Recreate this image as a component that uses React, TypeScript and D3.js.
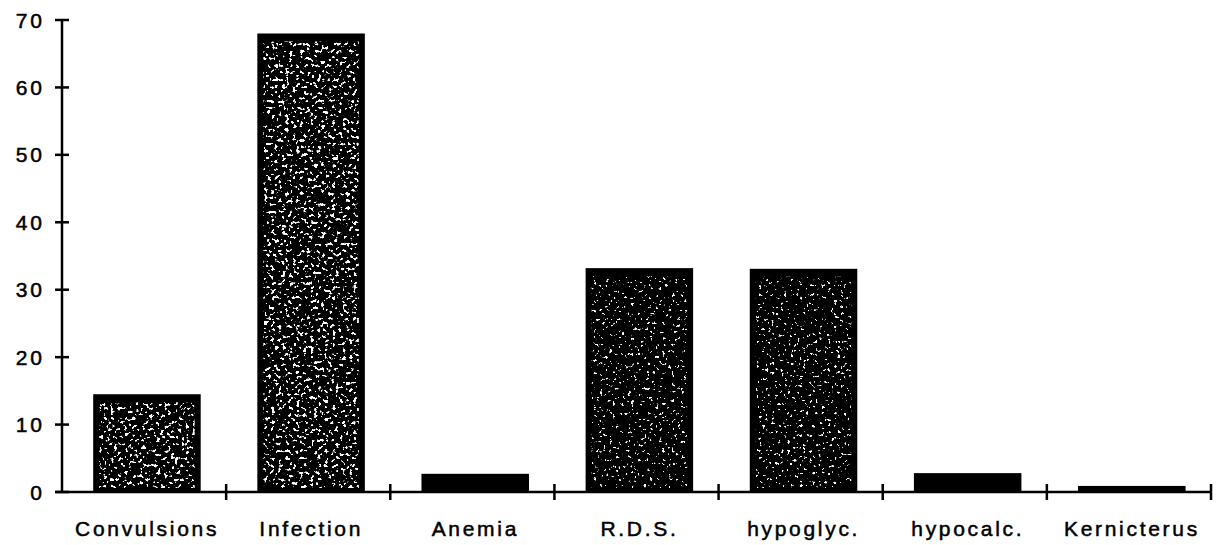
import React, { useRef, useEffect } from 'react'
import * as d3 from 'd3'

// categories and values
const categories = ['Convulsions', 'Infection', 'Anemia', 'R.D.S.', 'hypoglyc.', 'hypocalc.', 'Kernicterus']
const values = [14.5, 68, 2.7, 33.2, 33.1, 2.8, 0.9]
const yTicks = [0, 10, 20, 30, 40, 50, 60, 70]

const WIDTH = 1223
const HEIGHT = 545
const FONT = '"Liberation Sans", Arial, Helvetica, sans-serif'

const App: React.FC = () => {
    const svgRef = useRef<SVGSVGElement>(null)

    useEffect(() => {
        if (!svgRef.current) return
        const svg = d3.select(svgRef.current)
        svg.selectAll('*').remove()

        const left = 62
        const right = 1211
        const top = 20
        const bottom = 492

        const x = d3.scaleBand<string>().domain(categories).range([left, right]).padding(0)
        const y = d3.scaleLinear().domain([0, 70]).range([bottom, top])
        const bw = x.bandwidth()
        const barX = (d: string) => x(d)! + bw * 0.19
        const barW = bw * 0.655

        const defs = svg.append('defs')

        // speckle texture, like the halftone in the scan
        const mkFilter = (id: string, freq: number, cut: number, seed: number) => {
            const f = defs
                .append('filter')
                .attr('id', id)
                .attr('filterUnits', 'userSpaceOnUse')
                .attr('x', 0)
                .attr('y', 0)
                .attr('width', WIDTH)
                .attr('height', HEIGHT)
            f.append('feTurbulence')
                .attr('type', 'fractalNoise')
                .attr('baseFrequency', freq)
                .attr('numOctaves', 2)
                .attr('seed', seed)
                .attr('result', 'noise')
            f.append('feColorMatrix')
                .attr('in', 'noise')
                .attr('type', 'matrix')
                .attr('values', `0 0 0 0 1  0 0 0 0 1  0 0 0 0 1  18 0 0 0 ${-18 * cut}`)
        }
        mkFilter('speckDense', 0.28, 0.6, 11)
        mkFilter('speckSparse', 0.32, 0.66, 5)

        const dense = ['Convulsions', 'Infection']
        const textured = categories.filter((d, i) => bottom - y(values[i]) > 30)

        const mkClip = (id: string, cats: string[]) => {
            defs.append('clipPath')
                .attr('id', id)
                .selectAll('rect')
                .data(cats)
                .enter()
                .append('rect')
                .attr('x', (d) => barX(d) + 6)
                .attr('width', barW - 12)
                .attr('y', (d) => y(values[categories.indexOf(d)]) + 8)
                .attr('height', (d) => bottom - y(values[categories.indexOf(d)]) - 12)
        }
        mkClip('clipDense', textured.filter((d) => dense.includes(d)))
        mkClip('clipSparse', textured.filter((d) => !dense.includes(d)))

        const g = svg.append('g')

        // bars
        g.selectAll('rect.bar')
            .data(categories)
            .enter()
            .append('rect')
            .attr('class', 'bar')
            .attr('x', (d) => barX(d))
            .attr('width', barW)
            .attr('y', (d, i) => y(values[i]))
            .attr('height', (d, i) => bottom - y(values[i]))
            .attr('fill', '#000')

        g.append('g')
            .attr('clip-path', 'url(#clipDense)')
            .append('rect')
            .attr('width', WIDTH)
            .attr('height', HEIGHT)
            .attr('fill', '#000')
            .attr('filter', 'url(#speckDense)')

        g.append('g')
            .attr('clip-path', 'url(#clipSparse)')
            .append('rect')
            .attr('width', WIDTH)
            .attr('height', HEIGHT)
            .attr('fill', '#000')
            .attr('filter', 'url(#speckSparse)')

        // y axis
        g.append('line')
            .attr('x1', left)
            .attr('x2', left)
            .attr('y1', y(0))
            .attr('y2', y(70))
            .attr('stroke', '#000')
            .attr('stroke-width', 2.5)

        g.selectAll('.ytick')
            .data(yTicks)
            .enter()
            .append('line')
            .attr('class', 'ytick')
            .attr('x1', left - 7)
            .attr('x2', left + 7)
            .attr('y1', (d) => y(d))
            .attr('y2', (d) => y(d))
            .attr('stroke', '#000')
            .attr('stroke-width', 2.5)

        g.selectAll('.ylabel')
            .data(yTicks)
            .enter()
            .append('text')
            .attr('class', 'ylabel')
            .attr('x', 45)
            .attr('y', (d) => y(d))
            .attr('dy', '0.36em')
            .attr('text-anchor', 'end')
            .style('font-family', FONT)
            .style('font-size', '21px')
            .style('letter-spacing', '3px')
            .style('fill', '#000')
            .style('stroke', '#000')
            .style('stroke-width', 0.5)
            .text((d) => d)

        // x axis
        g.append('line')
            .attr('x1', left - 7)
            .attr('x2', right)
            .attr('y1', bottom)
            .attr('y2', bottom)
            .attr('stroke', '#000')
            .attr('stroke-width', 2.5)

        g.selectAll('.xtick')
            .data(categories)
            .enter()
            .append('line')
            .attr('class', 'xtick')
            .attr('x1', (d) => x(d)! + bw)
            .attr('x2', (d) => x(d)! + bw)
            .attr('y1', bottom - 8)
            .attr('y2', bottom + 8)
            .attr('stroke', '#000')
            .attr('stroke-width', 2.5)

        g.selectAll('.xlabel')
            .data(categories)
            .enter()
            .append('text')
            .attr('class', 'xlabel')
            .attr('x', (d) => x(d)! + bw / 2 + 3)
            .attr('y', 536)
            .attr('text-anchor', 'middle')
            .style('font-family', FONT)
            .style('font-size', '21px')
            .style('letter-spacing', '2.7px')
            .style('fill', '#000')
            .style('stroke', '#000')
            .style('stroke-width', 0.5)
            .text((d) => d)
    }, [])

    return (
        <svg
            ref={svgRef}
            width={WIDTH}
            height={HEIGHT}
            style={{ position: 'absolute', left: 0, top: 0, background: '#fff' }}
        />
    )
}

export default App
